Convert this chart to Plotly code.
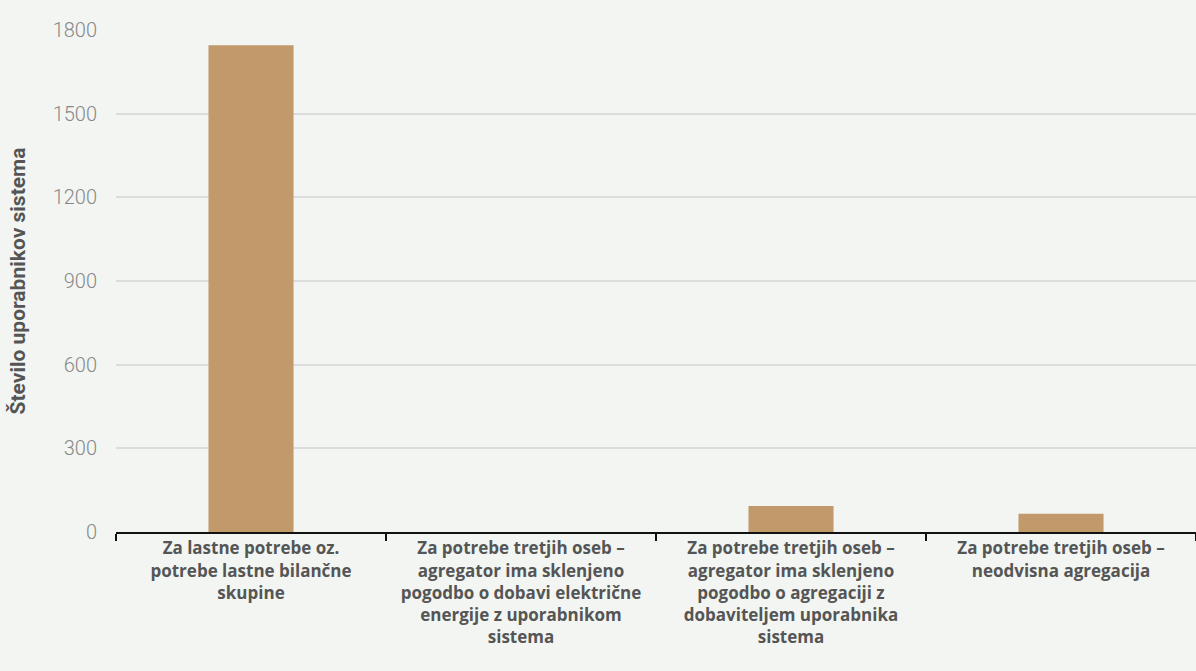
import plotly.graph_objects as go

categories = [
    "Za lastne potrebe oz.<br>potrebe lastne bilančne<br>skupine",
    "Za potrebe tretjih oseb –<br>agregator ima sklenjeno<br>pogodbo o dobavi električne<br>energije z uporabnikom<br>sistema",
    "Za potrebe tretjih oseb –<br>agregator ima sklenjeno<br>pogodbo o agregaciji z<br>dobaviteljem uporabnika<br>sistema",
    "Za potrebe tretjih oseb –<br>neodvisna agregacija",
]
values = [1745, 0, 93, 65]
y_ticks = [0, 300, 600, 900, 1200, 1500, 1800]

fig = go.Figure(go.Bar(
    x=categories, y=values,
    marker=dict(color="#c1996b", line=dict(width=0)),
    width=0.315,
))

fig.update_layout(
    width=1196, height=671,
    paper_bgcolor="#f2f5f2", plot_bgcolor="#f2f5f2",
    margin=dict(l=116, r=0, t=30, b=139),
    font=dict(family="Roboto", color="#555"),
    showlegend=False,
)
fig.update_xaxes(
    showline=True, linecolor="#111", linewidth=2,
    ticks="outside", tickcolor="#111", ticklen=7, tickwidth=2,
    tickson="boundaries", showgrid=False,
    tickfont=dict(size=17, color="#555", family="Open Sans", weight="bold"),
    tickangle=0,
)
fig.update_yaxes(
    range=[0, 1800], tickvals=y_ticks,
    showgrid=True, gridcolor="#dcdcdc", gridwidth=2, zeroline=False,
    tickfont=dict(size=20, color="#888", weight=300), ticklabelstandoff=18,
    title=dict(text="Število uporabnikov sistema",
               font=dict(size=21, color="#555", weight="bold"), standoff=21),
)

fig.write_html("out.html", config={"displayModeBar": False},
               post_script="document.body.style.margin='0';"
                           "document.body.style.background='#f2f5f2';")
